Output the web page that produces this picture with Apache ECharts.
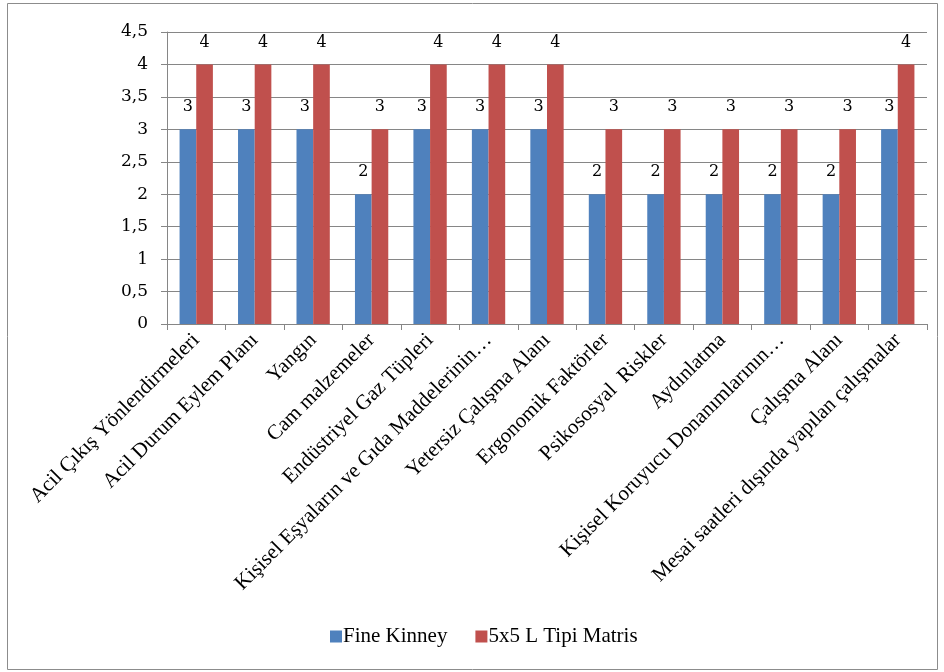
<!DOCTYPE html>
<html>
<head>
<meta charset="utf-8">
<script src="https://cdn.jsdelivr.net/npm/echarts@6/dist/echarts.min.js"></script>
<style>
html,body{margin:0;padding:0;background:#fff;}
#c{width:944px;height:672px;}
</style>
</head>
<body>
<div id="c"></div>
<script>
const categories = [
  "Acil Çıkış Yönlendirmeleri",
  "Acil Durum Eylem Planı",
  "Yangın",
  "Cam malzemeler",
  "Endüstriyel Gaz Tüpleri",
  "Kişisel Eşyaların ve Gıda Maddelerinin…",
  "Yetersiz Çalışma Alanı",
  "Ergonomik Faktörler",
  "Psikososyal  Riskler",
  "Aydınlatma",
  "Kişisel Koruyucu Donanımlarının…",
  "Çalışma Alanı",
  "Mesai saatleri dışında yapılan çalışmalar"
];
const fineKinney = [3, 3, 3, 2, 3, 3, 3, 2, 2, 2, 2, 2, 3];
const matris5x5 = [4, 4, 4, 3, 4, 4, 4, 3, 3, 3, 3, 3, 4];
const seriesNames = ["Fine Kinney", "5x5 L Tipi Matris"];

const chart = echarts.init(document.getElementById('c'), null, {renderer: 'canvas'});
const serif = "Liberation Serif";
const numFont = "DejaVu Serif";
const labelStyle = {show: true, position: 'top', distance: 14, color: '#000', fontFamily: numFont, fontSize: 16};
chart.setOption({
  animation: false,
  backgroundColor: '#fff',
  graphic: [{
    type: 'rect',
    shape: {x: 7.5, y: 3.5, width: 930, height: 666},
    style: {fill: 'none', stroke: '#8c8c8c', lineWidth: 1},
    silent: true
  }],
  grid: {left: 167, right: 17, top: 32, bottom: 348, containLabel: false},
  legend: {
    bottom: 20,
    left: 325,
    itemWidth: 12,
    itemHeight: 12,
    itemGap: 28,
    icon: 'rect',
    textStyle: {fontFamily: serif, fontSize: 21, color: '#000', padding: [0, 0, 0, -4]},
    data: seriesNames
  },
  xAxis: {
    type: 'category',
    data: categories,
    axisLine: {lineStyle: {color: '#868686'}},
    axisTick: {show: true, length: 6, lineStyle: {color: '#868686'}},
    axisLabel: {rotate: 45, interval: 0, margin: 13, fontFamily: serif, fontSize: 21, color: '#000'}
  },
  yAxis: {
    type: 'value',
    min: 0,
    max: 4.5,
    interval: 0.5,
    axisLine: {show: true, lineStyle: {color: '#868686'}},
    axisTick: {show: true, length: 6, lineStyle: {color: '#868686'}},
    splitLine: {lineStyle: {color: '#868686'}},
    axisLabel: {
      margin: 19,
      fontFamily: numFont,
      fontSize: 17,
      color: '#000',
      formatter: v => String(v).replace('.', ',')
    }
  },
  series: [
    {name: seriesNames[0], type: 'bar', data: fineKinney, barGap: '0%', barCategoryGap: '43%',
     itemStyle: {color: '#4F81BD'}, label: labelStyle},
    {name: seriesNames[1], type: 'bar', data: matris5x5, barGap: '0%', barCategoryGap: '43%',
     itemStyle: {color: '#C0504D'}, label: labelStyle}
  ]
});
</script>
</body>
</html>
